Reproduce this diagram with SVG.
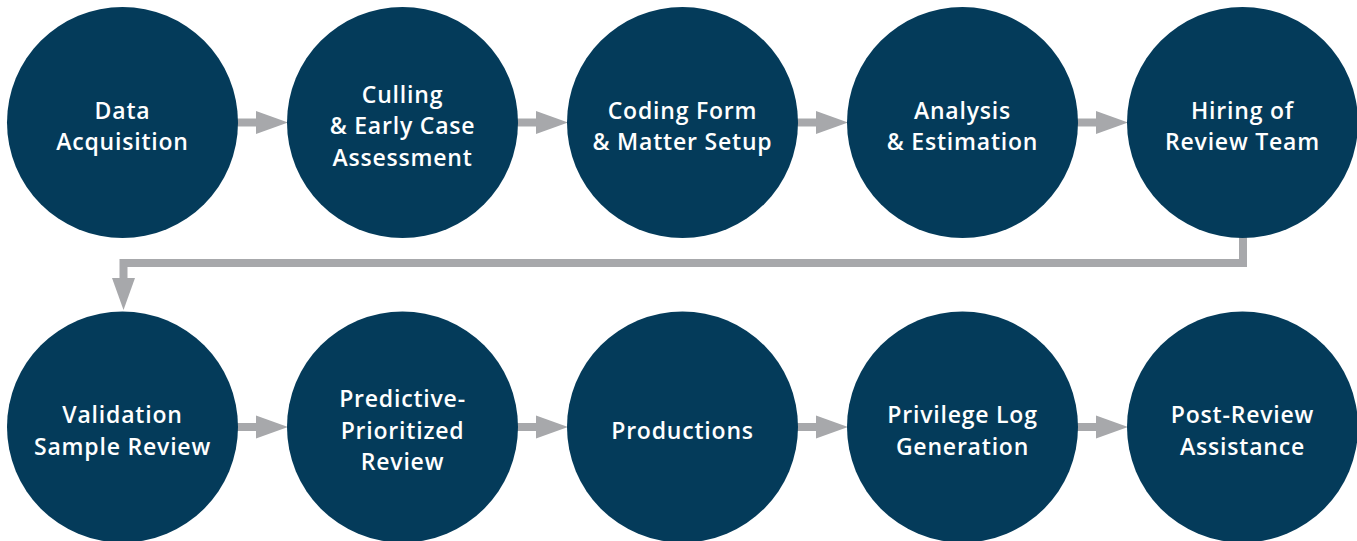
<svg xmlns="http://www.w3.org/2000/svg" width="1357" height="541" viewBox="0 0 1357 541">
<defs>
<style>
.n{fill:#043B5A}
.t{fill:#ffffff;font-family:"Open Sans",Lato,sans-serif;font-weight:600;font-size:23px;letter-spacing:0.8px;text-anchor:middle}
.c{stroke:#A7A8AB;stroke-width:8;fill:none}
.h{fill:#A7A8AB}
</style>
</defs>
<rect width="1357" height="541" fill="#ffffff"/>
<g id="connectors">
<line class="c" x1="237" y1="122.5" x2="258" y2="122.5"/><polygon class="h" points="256,111 288,122.5 256,134"/>
<line class="c" x1="517" y1="122.5" x2="538" y2="122.5"/><polygon class="h" points="536,111 568,122.5 536,134"/>
<line class="c" x1="797" y1="122.5" x2="818" y2="122.5"/><polygon class="h" points="816,111 848,122.5 816,134"/>
<line class="c" x1="1077" y1="122.5" x2="1098" y2="122.5"/><polygon class="h" points="1096,111 1128,122.5 1096,134"/>
<polyline class="c" points="1243,236 1243,263 123.5,263 123.5,280"/><polygon class="h" points="112,278 123.5,310 135,278"/>
<line class="c" x1="237" y1="427" x2="258" y2="427"/><polygon class="h" points="256,415.5 288,427 256,438.5"/>
<line class="c" x1="517" y1="427" x2="538" y2="427"/><polygon class="h" points="536,415.5 568,427 536,438.5"/>
<line class="c" x1="797" y1="427" x2="818" y2="427"/><polygon class="h" points="816,415.5 848,427 816,438.5"/>
<line class="c" x1="1077" y1="427" x2="1098" y2="427"/><polygon class="h" points="1096,415.5 1128,427 1096,438.5"/>
</g>
<g id="n1"><circle class="n" cx="122.5" cy="122.5" r="115.5"/><text class="t" x="122.5"><tspan x="122.5" y="118.5">Data</tspan><tspan x="122.5" y="150">Acquisition</tspan></text></g>
<g id="n2"><circle class="n" cx="402.5" cy="122.5" r="115.5"/><text class="t"><tspan x="402.5" y="102.5">Culling</tspan><tspan x="402.5" y="134">&amp; Early Case</tspan><tspan x="402.5" y="165.5">Assessment</tspan></text></g>
<g id="n3"><circle class="n" cx="682.5" cy="122.5" r="115.5"/><text class="t"><tspan x="682.5" y="118.5">Coding Form</tspan><tspan x="682.5" y="150">&amp; Matter Setup</tspan></text></g>
<g id="n4"><circle class="n" cx="962.5" cy="122.5" r="115.5"/><text class="t"><tspan x="962.5" y="118.5">Analysis</tspan><tspan x="962.5" y="150">&amp; Estimation</tspan></text></g>
<g id="n5"><circle class="n" cx="1242.5" cy="122.5" r="115.5"/><text class="t"><tspan x="1242.5" y="118.5">Hiring of</tspan><tspan x="1242.5" y="150">Review Team</tspan></text></g>
<g id="n6"><circle class="n" cx="122.5" cy="427" r="115.5"/><text class="t"><tspan x="122.5" y="423">Validation</tspan><tspan x="122.5" y="454.5">Sample Review</tspan></text></g>
<g id="n7"><circle class="n" cx="402.5" cy="427" r="115.5"/><text class="t"><tspan x="402.5" y="407">Predictive-</tspan><tspan x="402.5" y="438.5">Prioritized</tspan><tspan x="402.5" y="470">Review</tspan></text></g>
<g id="n8"><circle class="n" cx="682.5" cy="427" r="115.5"/><text class="t"><tspan x="682.5" y="438.5">Productions</tspan></text></g>
<g id="n9"><circle class="n" cx="962.5" cy="427" r="115.5"/><text class="t"><tspan x="962.5" y="423">Privilege Log</tspan><tspan x="962.5" y="454.5">Generation</tspan></text></g>
<g id="n10"><circle class="n" cx="1242.5" cy="427" r="115.5"/><text class="t"><tspan x="1242.5" y="423">Post-Review</tspan><tspan x="1242.5" y="454.5">Assistance</tspan></text></g>
</svg>
